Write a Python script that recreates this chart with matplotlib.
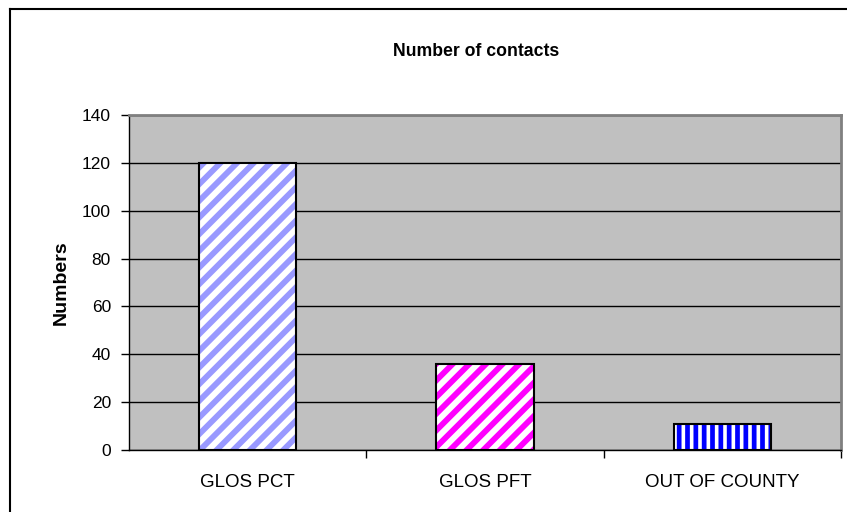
import numpy as np
import matplotlib
matplotlib.use('Agg')
import matplotlib.pyplot as plt
from matplotlib.lines import Line2D

plt.rc('font', family=['Liberation Sans', 'DejaVu Sans'], size=12)

categories = ['GLOS PCT', 'GLOS PFT', 'OUT OF COUNTY']
values = [120, 36, 11]
hatch_colors = ['#9999FF', '#FF00FF', '#0000FF']
hatches = ['//', '//', '||']
hatch_widths = [4.2, 4.2, 3.4]

W, H = 847, 512
fig = plt.figure(figsize=(W / 100, H / 100), dpi=100)
ax = fig.add_axes([129 / W, 1 - 450 / H, (841 - 129) / W, (450 - 115) / H])

# outer chart border (left and top visible only)
fig.add_artist(Line2D([10 / W, 10 / W], [0, 1 - 9 / H], color='black', lw=1.5))
fig.add_artist(Line2D([10 / W, 1], [1 - 9 / H, 1 - 9 / H], color='black', lw=1.5))

ax.set_facecolor('#C0C0C0')
index = np.arange(len(categories))
bar_width = 0.41

for i, (v, c, h, hw) in enumerate(zip(values, hatch_colors, hatches, hatch_widths)):
    b = ax.bar(index[i], v, bar_width, color='white', edgecolor=c, linewidth=0,
               hatch=h, zorder=3)
    for p in b:
        if hasattr(p, 'set_hatch_linewidth'):
            p.set_hatch_linewidth(hw)
    ax.bar(index[i], v, bar_width, fill=False, edgecolor='black', linewidth=1.5, zorder=4)

ax.set_xlim(-0.5, len(categories) - 0.5)
ax.set_ylim(0, 140)
ax.set_yticks(np.arange(0, 141, 20))
ax.yaxis.grid(True, color='black', linewidth=1)
ax.set_axisbelow(True)

ax.set_xticks(index)
ax.set_xticklabels(categories)
ax.set_xticks(np.arange(0.5, len(categories), 1), minor=True)
ax.tick_params(axis='x', which='major', length=0, pad=17, labelsize=13.5)
ax.tick_params(axis='x', which='minor', length=6, direction='out', width=1)
ax.tick_params(axis='y', length=6, direction='out', width=1, pad=7, labelsize=12.5)

for s in ['top', 'right']:
    ax.spines[s].set_color('#808080')
    ax.spines[s].set_linewidth(2)
for s in ['left', 'bottom']:
    ax.spines[s].set_color('black')
    ax.spines[s].set_linewidth(1)

ax.set_ylabel('Numbers', fontweight='bold', fontsize=14, labelpad=9)
fig.text(476 / W, 1 - 52 / H, 'Number of contacts', ha='center', va='center',
         fontweight='bold', fontsize=12.7)

fig.savefig('out.png', dpi=100)
